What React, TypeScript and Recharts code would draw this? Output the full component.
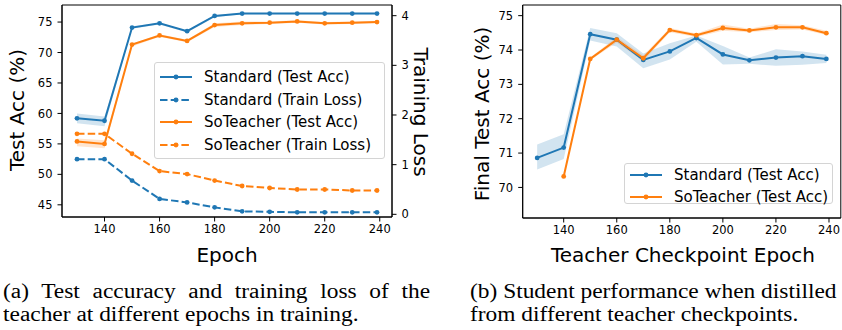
import {
  ComposedChart,
  Line,
  Area,
  XAxis,
  YAxis,
  Legend,
  ReferenceArea,
} from "recharts";

const BLUE = "#1f77b4";
const ORANGE = "#ff7f0e";
const FONT = "'DejaVu Sans', sans-serif";

// epochs shared by both panels
const epochs = [130, 140, 150, 160, 170, 180, 190, 200, 210, 220, 230, 239];
const epochTicks = [140, 160, 180, 200, 220, 240];

// (a) teacher test accuracy and train loss
const stdAcc = [59.2, 58.8, 74.1, 74.8, 73.5, 76.0, 76.4, 76.4, 76.4, 76.4, 76.4, 76.4];
const stdAccLo = [58.4, 57.9, 73.9, 74.6, 73.3, 75.8, 76.3, 76.3, 76.3, 76.3, 76.3, 76.3];
const stdAccHi = [60.0, 59.5, 74.3, 74.9, 73.6, 76.1, 76.5, 76.5, 76.5, 76.5, 76.5, 76.5];
const soAcc = [55.4, 55.0, 71.3, 72.8, 71.9, 74.5, 74.8, 74.9, 75.1, 74.8, 74.9, 75.0];
const soAccLo = [54.6, 54.3, 71.0, 72.6, 71.7, 74.2, 74.5, 74.7, 74.9, 74.6, 74.7, 74.8];
const soAccHi = [55.9, 55.6, 71.4, 73.0, 72.1, 74.8, 75.1, 75.1, 75.3, 75.0, 75.1, 75.2];
const stdLoss = [1.11, 1.11, 0.68, 0.31, 0.24, 0.14, 0.06, 0.05, 0.04, 0.04, 0.04, 0.04];
const soLoss = [1.62, 1.62, 1.22, 0.87, 0.81, 0.68, 0.57, 0.53, 0.5, 0.5, 0.48, 0.48];
const accTicks = [45, 50, 55, 60, 65, 70, 75];
const lossTicks = [0, 1, 2, 3, 4];

// (b) student final test accuracy
const stdFinal = [70.86, 71.16, 74.46, 74.3, 73.71, 73.96, 74.35, 73.87, 73.7, 73.78, 73.82, 73.74];
const stdFinalLo = [70.52, 70.83, 74.28, 74.1, 73.47, 73.72, 74.24, 73.58, 73.6, 73.54, 73.57, 73.62];
const stdFinalHi = [71.25, 71.55, 74.64, 74.49, 73.9, 74.2, 74.42, 74.12, 73.78, 74.02, 73.96, 73.86];
const soFinal = [null, 70.32, 73.74, 74.3, 73.76, 74.58, 74.43, 74.64, 74.57, 74.66, 74.66, 74.49];
const soFinalLo = [null, 70.3, 73.7, 74.22, 73.68, 74.52, 74.38, 74.56, 74.52, 74.58, 74.6, 74.44];
const soFinalHi = [null, 70.34, 73.78, 74.38, 73.84, 74.64, 74.48, 74.74, 74.62, 74.76, 74.72, 74.56];
const finalTicks = [70, 71, 72, 73, 74, 75];

const leftLegend = [
  { label: "Standard (Test Acc)", color: BLUE, dash: "" },
  { label: "Standard (Train Loss)", color: BLUE, dash: "7.5 3.2" },
  { label: "SoTeacher (Test Acc)", color: ORANGE, dash: "" },
  { label: "SoTeacher (Train Loss)", color: ORANGE, dash: "7.5 3.2" },
];
const rightLegend = [
  { label: "Standard (Test Acc)", color: BLUE, dash: "" },
  { label: "SoTeacher (Test Acc)", color: ORANGE, dash: "" },
];

const leftData = epochs.map((e, i) => ({
  epoch: e,
  stdAcc: stdAcc[i],
  stdBand: [stdAccLo[i], stdAccHi[i]],
  soAcc: soAcc[i],
  soBand: [soAccLo[i], soAccHi[i]],
  stdLoss: stdLoss[i],
  soLoss: soLoss[i],
}));

const rightData = epochs.map((e, i) => ({
  epoch: e,
  std: stdFinal[i],
  stdBand: [stdFinalLo[i], stdFinalHi[i]],
  so: soFinal[i],
  soBand: soFinal[i] == null ? null : [soFinalLo[i], soFinalHi[i]],
}));

const tick = { fill: "#000", fontSize: 11.5, fontFamily: FONT };
const xDomain: [number, number] = [124.55, 244.45];

const makeLegend = (items: any[], w: number, h: number, rowH: number, padTop: number) => () =>
  (
    <div
      style={{
        width: w,
        height: h,
        boxSizing: "border-box",
        border: "1px solid #d4d4d4",
        borderRadius: 3,
        background: "rgba(255,255,255,0.85)",
        paddingTop: padTop,
        fontFamily: FONT,
        fontSize: 15,
        color: "#000",
      }}
    >
      {items.map((it) => (
        <div key={it.label} style={{ height: rowH, display: "flex", alignItems: "center" }}>
          <svg width={32} height={10} style={{ marginLeft: 5, marginRight: 12 }}>
            <line x1={0} y1={5} x2={32} y2={5} stroke={it.color} strokeWidth={2} strokeDasharray={it.dash} />
            <circle cx={16} cy={5} r={2.4} fill={it.color} />
          </svg>
          <span style={{ whiteSpace: "nowrap" }}>{it.label}</span>
        </div>
      ))}
    </div>
  );

function AxisTitle({ text, x, y, rotate }: { text: string; x: number; y: number; rotate: number }) {
  return (
    <div
      style={{
        position: "absolute",
        left: x,
        top: y,
        transform: `translate(-50%, -50%) rotate(${rotate}deg)`,
        fontFamily: FONT,
        fontSize: 20,
        whiteSpace: "nowrap",
        lineHeight: "20px",
        color: "#000",
      }}
    >
      {text}
    </div>
  );
}

const dot = (c: string) => ({ r: 2.4, fill: c, stroke: c, strokeWidth: 0 });

const captionStyle: any = {
  position: "absolute",
  top: 280,
  fontFamily: "'Liberation Serif', serif",
  fontSize: 20,
  lineHeight: "23.3px",
  color: "#000",
  whiteSpace: "nowrap",
  transform: "scaleX(1.17)",
  transformOrigin: "0 0",
};

export default function App() {
  return (
    <div style={{ position: "absolute", left: 0, top: 0, width: 842, height: 330, background: "#fff", overflow: "hidden" }}>
      <div style={{ position: "absolute", left: 0, top: 0 }}>
        <ComposedChart width={440} height={260} data={leftData} margin={{ top: 5, right: 8, bottom: 13, left: 22 }}>
          <XAxis
            dataKey="epoch"
            type="number"
            domain={xDomain}
            ticks={epochTicks}
            allowDataOverflow
            tick={tick}
            tickSize={4.5}
            tickMargin={3}
            height={30}
            stroke="#000"
          />
          <YAxis
            yAxisId="acc"
            domain={[43.0, 77.8]}
            ticks={accTicks}
            allowDataOverflow
            tick={tick}
            tickSize={4.5}
            tickMargin={5}
            width={40}
            stroke="#000"
          />
          <YAxis
            yAxisId="loss"
            orientation="right"
            domain={[-0.054, 4.215]}
            ticks={lossTicks}
            allowDataOverflow
            tick={tick}
            tickSize={4.5}
            tickMargin={5}
            width={40}
            stroke="#000"
          />
          <ReferenceArea yAxisId="acc" x1={xDomain[0]} x2={xDomain[1]} y1={43.0} y2={77.8} fill="none" stroke="#000" strokeWidth={1} />
          <Area yAxisId="acc" type="linear" dataKey="stdBand" stroke="none" fill={BLUE} fillOpacity={0.2} isAnimationActive={false} />
          <Area yAxisId="acc" type="linear" dataKey="soBand" stroke="none" fill={ORANGE} fillOpacity={0.2} isAnimationActive={false} />
          <Line yAxisId="acc" type="linear" dataKey="stdAcc" stroke={BLUE} strokeWidth={2} dot={dot(BLUE)} activeDot={false} isAnimationActive={false} />
          <Line yAxisId="loss" type="linear" dataKey="stdLoss" stroke={BLUE} strokeWidth={2} strokeDasharray="7.5 3.2" dot={dot(BLUE)} activeDot={false} isAnimationActive={false} />
          <Line yAxisId="acc" type="linear" dataKey="soAcc" stroke={ORANGE} strokeWidth={2} dot={dot(ORANGE)} activeDot={false} isAnimationActive={false} />
          <Line yAxisId="loss" type="linear" dataKey="soLoss" stroke={ORANGE} strokeWidth={2} strokeDasharray="7.5 3.2" dot={dot(ORANGE)} activeDot={false} isAnimationActive={false} />
          <Legend
            layout="vertical"
            align="center"
            verticalAlign="middle"
            wrapperStyle={{ left: 154, top: 62, width: 231, height: 97 }}
            content={makeLegend(leftLegend, 231, 97, 22.7, 2.6)}
          />
        </ComposedChart>
        <AxisTitle text="Test Acc (%)" x={17} y={110} rotate={-90} />
        <AxisTitle text="Training Loss" x={421} y={112} rotate={90} />
        <AxisTitle text="Epoch" x={227} y={255} rotate={0} />
      </div>

      <div style={{ position: "absolute", left: 440, top: 0 }}>
        <ComposedChart width={402} height={260} data={rightData} margin={{ top: 5, right: 1.2, bottom: 12, left: 42.7 }}>
          <XAxis
            dataKey="epoch"
            type="number"
            domain={xDomain}
            ticks={epochTicks}
            allowDataOverflow
            tick={tick}
            tickSize={4.5}
            tickMargin={3}
            height={30}
            stroke="#000"
          />
          <YAxis
            domain={[69.11, 75.31]}
            ticks={finalTicks}
            allowDataOverflow
            tick={tick}
            tickSize={4.5}
            tickMargin={5}
            width={40}
            stroke="#000"
          />
          <ReferenceArea x1={xDomain[0]} x2={xDomain[1]} y1={69.11} y2={75.31} fill="none" stroke="#000" strokeWidth={1} />
          <Area type="linear" dataKey="stdBand" stroke="none" fill={BLUE} fillOpacity={0.2} isAnimationActive={false} />
          <Area type="linear" dataKey="soBand" stroke="none" fill={ORANGE} fillOpacity={0.2} isAnimationActive={false} />
          <Line type="linear" dataKey="std" stroke={BLUE} strokeWidth={2} dot={dot(BLUE)} activeDot={false} isAnimationActive={false} />
          <Line type="linear" dataKey="so" stroke={ORANGE} strokeWidth={2} dot={dot(ORANGE)} activeDot={false} isAnimationActive={false} />
          <Legend
            layout="vertical"
            align="center"
            verticalAlign="middle"
            wrapperStyle={{ left: 184, top: 163, width: 209, height: 41 }}
            content={makeLegend(rightLegend, 209, 41, 22, 0)}
          />
        </ComposedChart>
        <AxisTitle text="Final Test Acc (%)" x={42} y={114} rotate={-90} />
        <AxisTitle text="Teacher Checkpoint Epoch" x={243} y={255} rotate={0} />
      </div>

      <div style={{ ...captionStyle, left: 3, width: 365 }}>
        <div style={{ textAlign: "justify", textAlignLast: "justify" }}>(a) Test accuracy and training loss of the</div>
        <div>teacher at different epochs in training.</div>
      </div>
      <div style={{ ...captionStyle, left: 470 }}>
        <div>(b) Student performance when distilled</div>
        <div>from different teacher checkpoints.</div>
      </div>
    </div>
  );
}
